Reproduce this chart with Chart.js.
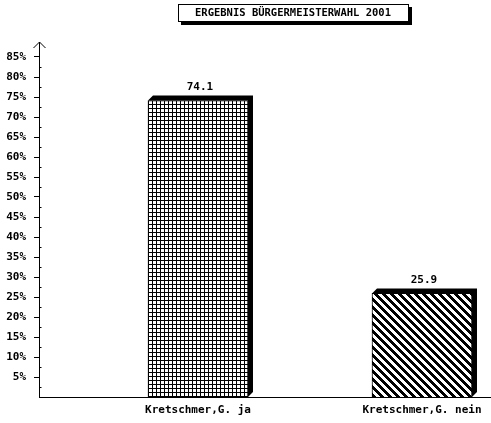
<!DOCTYPE html>
<html>
<head>
<meta charset="utf-8">
<script src="https://cdn.jsdelivr.net/npm/chart.js@4"></script>
<style>
html,body{margin:0;padding:0;background:#fff;}
canvas{display:block;}
</style>
</head>
<body>
<canvas id="c" width="491" height="423"></canvas>
<script>
const chartTitle = 'ERGEBNIS BÜRGERMEISTERWAHL 2001';
const categories = ['Kretschmer,G. ja', 'Kretschmer,G. nein'];
const values = [74.1, 25.9];
const yTicks = [5, 10, 15, 20, 25, 30, 35, 40, 45, 50, 55, 60, 65, 70, 75, 80, 85];

const FONT = 'bold 11px "DejaVu Sans Mono", monospace';

function makeGrid() {
  const c = document.createElement('canvas');
  c.width = 4; c.height = 4;
  const g = c.getContext('2d');
  g.fillStyle = '#fff'; g.fillRect(0, 0, 4, 4);
  g.fillStyle = '#000'; g.fillRect(0, 0, 4, 1); g.fillRect(0, 0, 1, 4);
  return g.createPattern(c, 'repeat');
}
function makeStripes() {
  const c = document.createElement('canvas');
  c.width = 8; c.height = 8;
  const g = c.getContext('2d');
  g.fillStyle = '#fff'; g.fillRect(0, 0, 8, 8);
  g.fillStyle = '#000';
  for (let y = 0; y < 8; y++) for (let x = 0; x < 8; x++) {
    if ((((x - y) % 8) + 8) % 8 < 4) g.fillRect(x, y, 1, 1);
  }
  return g.createPattern(c, 'repeat');
}
const patterns = [makeGrid(), makeStripes()];

const depthPlugin = {
  id: 'depth',
  beforeDatasetsDraw(chart) {
    const ctx = chart.ctx;
    const d = 5;
    chart.getDatasetMeta(0).data.forEach(el => {
      const p = el.getProps(['x', 'y', 'base', 'width'], true);
      const l = p.x - p.width / 2, r = p.x + p.width / 2;
      ctx.save();
      ctx.fillStyle = '#000';
      ctx.beginPath();
      ctx.moveTo(l, p.y);
      ctx.lineTo(l + d, p.y - d);
      ctx.lineTo(r + d, p.y - d);
      ctx.lineTo(r + d, p.base - d);
      ctx.lineTo(r, p.base);
      ctx.lineTo(r, p.y);
      ctx.closePath();
      ctx.fill();
      ctx.restore();
    });
  },
  afterDatasetsDraw(chart) {
    const ctx = chart.ctx;
    ctx.save();
    ctx.font = FONT;
    ctx.fillStyle = '#000';
    ctx.textAlign = 'center';
    ctx.textBaseline = 'middle';
    chart.getDatasetMeta(0).data.forEach((el, i) => {
      const p = el.getProps(['x', 'y'], true);
      ctx.fillText(values[i].toFixed(1), p.x + 2, p.y - 13);
    });
    ctx.restore();
  },
  afterDraw(chart) {
    const ctx = chart.ctx;
    const a = chart.chartArea;
    const ys = chart.scales.y;
    const x0 = Math.round(a.left) + 0.5;
    ctx.save();
    ctx.strokeStyle = '#000';
    ctx.lineWidth = 1;
    ctx.beginPath();
    ctx.moveTo(x0, a.top);
    ctx.lineTo(x0, 42);
    ctx.moveTo(x0 - 6, 48);
    ctx.lineTo(x0, 42);
    ctx.lineTo(x0 + 6, 48);
    ctx.stroke();
    ctx.beginPath();
    yTicks.forEach(v => {
      const yy = Math.round(ys.getPixelForValue(v - 2.5)) + 0.5;
      ctx.moveTo(x0, yy);
      ctx.lineTo(x0 + 2, yy);
    });
    ctx.stroke();
    ctx.fillStyle = '#000';
    ctx.fillRect(181, 7, 231, 18);
    ctx.fillStyle = '#fff';
    ctx.fillRect(178, 4, 230, 17);
    ctx.strokeRect(178.5, 4.5, 230, 17);
    ctx.fillStyle = '#000';
    ctx.font = 'bold 10.5px "DejaVu Sans Mono", monospace';
    ctx.textAlign = 'center';
    ctx.textBaseline = 'middle';
    ctx.fillText(chartTitle, 293, 13.5);
    ctx.restore();
  }
};

new Chart(document.getElementById('c'), {
  type: 'bar',
  data: {
    datasets: [{
      data: categories.map((c, i) => ({ x: i + 1, y: values[i] })),
      backgroundColor: patterns,
      borderColor: '#000',
      borderWidth: 1,
      barThickness: 100
    }]
  },
  options: {
    responsive: false,
    devicePixelRatio: 1,
    animation: false,
    layout: { padding: { top: 45, right: 1, left: 0, bottom: 0 } },
    plugins: { legend: { display: false }, tooltip: { enabled: false } },
    scales: {
      x: {
        type: 'linear',
        offset: false,
        bounds: 'data',
        min: 0.2902,
        max: 2.3036,
        afterBuildTicks: s => { s.ticks = categories.map((c, i) => ({ value: i + 1 })); },
        afterFit: s => { s.height = 26; },
        grid: { display: false, drawTicks: false },
        border: { color: '#000', width: 1 },
        ticks: {
          autoSkip: false,
          maxRotation: 0,
          padding: 7,
          color: '#000',
          font: { family: '"DejaVu Sans Mono", monospace', size: 11, weight: 'bold' },
          callback: v => categories[v - 1]
        }
      },
      y: {
        min: 0,
        max: 88,
        afterBuildTicks: s => { s.ticks = yTicks.map(v => ({ value: v })); },
        afterFit: s => { s.width = 39; },
        grid: { drawOnChartArea: false, tickLength: 5, color: '#000' },
        border: { color: '#000', width: 1 },
        ticks: {
          padding: 8,
          color: '#000',
          font: { family: '"DejaVu Sans Mono", monospace', size: 11, weight: 'bold' },
          callback: v => v + '%'
        }
      }
    }
  },
  plugins: [depthPlugin]
});
</script>
</body>
</html>
